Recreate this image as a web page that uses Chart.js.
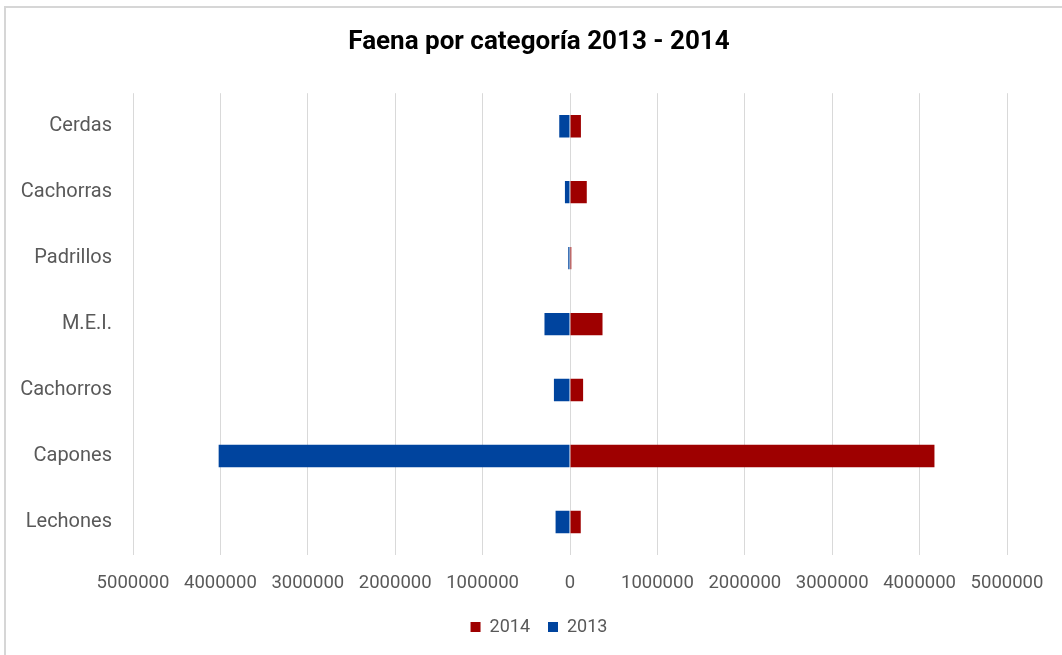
<!DOCTYPE html>
<html>
<head>
<meta charset="utf-8">
<script src="https://cdn.jsdelivr.net/npm/chart.js@4"></script>
<style>
  html, body { margin: 0; padding: 0; background: #fff; }
  #wrap { position: relative; width: 1062px; height: 655px; overflow: hidden; }
  #frame { position: absolute; left: 4px; top: 6px; width: 1100px; height: 700px;
           border-left: 2px solid #d6d6d6; border-top: 2px solid #d6d6d6; }
  canvas { position: absolute; left: 0; top: 0; }
</style>
</head>
<body>
<div id="wrap">
  <div id="frame"></div>
  <canvas id="c" width="1062" height="655"></canvas>
</div>
<script>
const categories = ["Cerdas", "Cachorras", "Padrillos", "M.E.I.", "Cachorros", "Capones", "Lechones"];
const values2014 = [125000, 192000, 15000, 372000, 150000, 4170000, 123000];
const values2013 = [123000, 58000, 20000, 292000, 184000, 4020000, 165000];
const seriesNames = ["2014", "2013"];
const xTicksMin = -5000000;
const xTicksMax = 5000000;
const xTickStep = 1000000;

const FONT = "Roboto, 'Liberation Sans', sans-serif";

new Chart(document.getElementById('c'), {
  type: 'bar',
  data: {
    labels: categories,
    datasets: [
      { label: seriesNames[0], data: values2014, backgroundColor: '#9e0000', borderWidth: 0 },
      { label: seriesNames[1], data: values2013.map(v => -v), backgroundColor: '#00449e', borderWidth: 0 }
    ]
  },
  options: {
    indexAxis: 'y',
    responsive: false,
    animation: false,
    layout: { padding: { left: 71, right: 55, top: 0, bottom: 9 } },
    datasets: { bar: { barPercentage: 0.34, categoryPercentage: 1 } },
    plugins: {
      title: {
        display: true,
        text: 'Faena por categoría 2013 - 2014',
        color: '#000',
        font: { family: FONT, size: 26, weight: 'bold' },
        padding: { top: 27, bottom: 35 }
      },
      legend: {
        position: 'bottom',
        labels: {
          color: '#595959',
          font: { family: FONT, size: 18 },
          boxWidth: 10, boxHeight: 10, padding: 18
        }
      },
      tooltip: { enabled: false }
    },
    scales: {
      x: {
        stacked: true,
        min: xTicksMin, max: xTicksMax,
        ticks: {
          stepSize: xTickStep,
          color: '#595959',
          font: { family: FONT, size: 18.5 },
          padding: 17,
          maxRotation: 0,
          autoSkip: false,
          callback: v => String(Math.abs(v))
        },
        grid: { color: '#d9d9d9', lineWidth: 1, drawTicks: false },
        border: { display: false },
        afterFit: s => { s.height = 45; }
      },
      y: {
        stacked: true,
        ticks: {
          color: '#595959',
          font: { family: FONT, size: 20 },
          padding: 21
        },
        grid: { display: false, drawTicks: false },
        border: { display: false },
        afterFit: s => { s.width = 62; s._computeLabelArea = () => undefined; }
      }
    }
  }
});
</script>
</body>
</html>
